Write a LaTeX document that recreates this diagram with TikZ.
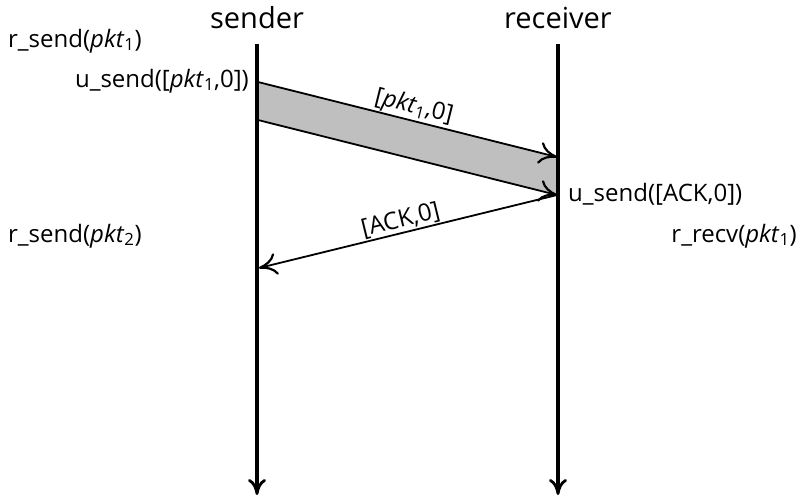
\documentclass[tikz,border=0pt]{standalone}
\usepackage{fontspec}
\setmainfont{Open Sans}
\usetikzlibrary{arrows.meta}
\newcommand{\pkt}[1]{\textit{pkt}\textsubscript{#1}}
\tikzset{
  lifeline/.style={line width=4pt,-{To[length=16pt,width=18pt,line width'=2.8pt]}},
  msg/.style={line width=1.8pt,-{To[length=18pt,width=22pt,line width'=2.2pt]}},
  head/.style={font=\fontsize{29}{34}\selectfont,inner sep=0pt,anchor=base},
  lbl/.style={font=\fontsize{24}{28}\selectfont,inner sep=0pt},
  pktfill/.style={fill=gray!50}
}
\begin{document}
\begin{tikzpicture}[x=1pt,y=-1pt]
\useasboundingbox (0,0) rectangle (803,496);
\node[head] (sender) at (257,28) {sender};
\node[head] (receiver) at (558,28) {receiver};
\coordinate (stop) at (257,44);
\coordinate (sbot) at (257,495);
\coordinate (rtop) at (558,44);
\coordinate (rbot) at (558,495);
\coordinate (s1) at (258,82);
\coordinate (s2) at (258,120);
\coordinate (r1) at (557,157);
\coordinate (r2) at (557,195);
\coordinate (ack) at (259,268);
\fill[pktfill] (s1) -- (r1) -- (r2) -- (s2) -- cycle;
\draw[lifeline] (stop) -- (sbot);
\draw[lifeline] (rtop) -- (rbot);
\draw[msg] (s1) -- node[lbl,sloped,above=1pt,pos=0.51] (pl) {[\pkt{1},0]} (r1);
\draw[msg] (s2) -- (r2);
\draw[msg] (r2) -- node[lbl,sloped,above=1pt,pos=0.515] (al) {[ACK,0]} (ack);
\node[lbl,anchor=base west] (rs1) at (8,47) {r\_send(\pkt{1})};
\node[lbl,anchor=base east] (us1) at (249,87) {u\_send([\pkt{1},0])};
\node[lbl,anchor=base west] (rs2) at (8,242) {r\_send(\pkt{2})};
\node[lbl,anchor=base west] (usa) at (568,201) {u\_send([ACK,0])};
\node[lbl,anchor=base east] (rr1) at (797,242) {r\_recv(\pkt{1})};
\end{tikzpicture}
\end{document}
